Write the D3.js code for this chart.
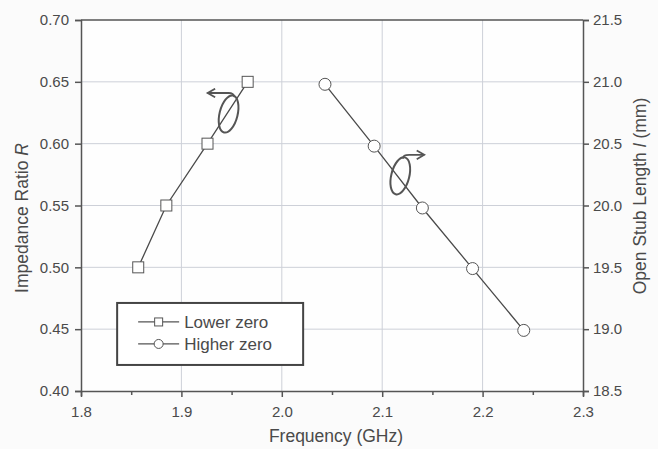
<!DOCTYPE html>
<html>
<head>
<meta charset="utf-8">
<script src="https://d3js.org/d3.v7.min.js"></script>
<style>
    body { margin: 0; background: #fbfbfb; }
    svg { display: block; font-family: "Liberation Sans", Arial, sans-serif; }
    .grid line { stroke: #cdd0d8; stroke-width: 1; }
    .axis path, .axis line { stroke: #555; stroke-width: 1.5; }
    .axis text { fill: #4a4a4a; font-size: 15px; }
    .label { fill: #4a4a4a; font-size: 17px; }
    .title { fill: #4a4a4a; font-size: 17.5px; }
</style>
</head>
<body>
<svg class="target" width="658" height="449"></svg>
<script>

    // data
    let lowerFreq = [1.857, 1.885, 1.926, 1.966];
    let lowerR = [0.50, 0.55, 0.60, 0.65];
    let higherFreq = [2.043, 2.092, 2.140, 2.190, 2.241];
    let higherL = [20.98, 20.48, 19.98, 19.49, 18.99];
    let xTicks = [1.8, 1.9, 2.0, 2.1, 2.2, 2.3];
    let yTicks = [0.40, 0.45, 0.50, 0.55, 0.60, 0.65, 0.70];
    let y2Ticks = [18.5, 19.0, 19.5, 20.0, 20.5, 21.0, 21.5];

    let svg = d3.select(".target"),
        margin = {left: 81, right: 75, top: 20, bottom: 58},
        width = +svg.attr("width") - margin.left - margin.right,
        height = +svg.attr("height") - margin.top - margin.bottom;

    let x = d3.scaleLinear().domain([1.8, 2.3]).range([0, width]);
    let y = d3.scaleLinear().domain([0.40, 0.70]).range([height, 0]);
    let y2 = d3.scaleLinear().domain([18.5, 21.5]).range([height, 0]);

    let g = svg.append("g").attr("transform", "translate(" + margin.left + "," + margin.top + ")");

    g.append("rect").attr("width", width).attr("height", height).attr("fill", "#fefefe");

    // grid
    let grid = g.append("g").attr("class", "grid");
    grid.selectAll(".v").data(xTicks.slice(1, -1)).enter().append("line")
        .attr("x1", d => x(d)).attr("x2", d => x(d)).attr("y1", 0).attr("y2", height);
    grid.selectAll(".h").data(yTicks.slice(1, -1)).enter().append("line")
        .attr("y1", d => y(d)).attr("y2", d => y(d)).attr("x1", 0).attr("x2", width);

    // axes
    g.append("g").attr("class", "axis")
        .attr("transform", "translate(0," + height + ")")
        .call(d3.axisBottom(x).tickValues(d3.range(1.8, 2.3001, 0.05)).tickSize(5)
            .tickFormat(d => xTicks.some(t => Math.abs(t - d) < 1e-6) ? d3.format(".1f")(d) : ""))
        .call(a => a.selectAll(".tick text").attr("y", 9).attr("dy", "1.15em"))
        .call(a => a.selectAll(".tick line").attr("y2", (d, i) => i % 2 ? 4 : 6));

    g.append("g").attr("class", "axis")
        .call(d3.axisLeft(y).tickValues(yTicks).tickSize(6).tickFormat(d3.format(".2f")))
        .call(a => a.selectAll(".tick text").attr("x", -12));

    g.append("g").attr("class", "axis")
        .attr("transform", "translate(" + width + ",0)")
        .call(d3.axisRight(y2).tickValues(y2Ticks).tickSize(6).tickFormat(d3.format(".1f")))
        .call(a => a.selectAll(".tick text").attr("x", 10));

    g.append("line").attr("x1", 0).attr("x2", width).attr("y1", 0).attr("y2", 0)
        .attr("stroke", "#555").attr("stroke-width", 1.5);

    // series
    let lower = lowerFreq.map((f, i) => ({x: f, y: lowerR[i]}));
    let higher = higherFreq.map((f, i) => ({x: f, y: higherL[i]}));

    g.append("path").datum(lower)
        .attr("fill", "none").attr("stroke", "#4a4a4a").attr("stroke-width", 1.3)
        .attr("d", d3.line().x(d => x(d.x)).y(d => y(d.y)));
    g.append("path").datum(higher)
        .attr("fill", "none").attr("stroke", "#4a4a4a").attr("stroke-width", 1.3)
        .attr("d", d3.line().x(d => x(d.x)).y(d => y2(d.y)));

    g.selectAll(".sq").data(lower).enter().append("rect")
        .attr("x", d => x(d.x) - 5.5).attr("y", d => y(d.y) - 5.5)
        .attr("width", 11).attr("height", 11)
        .attr("fill", "#fff").attr("stroke", "#555").attr("stroke-width", 1);
    g.selectAll(".ci").data(higher).enter().append("circle")
        .attr("cx", d => x(d.x)).attr("cy", d => y2(d.y)).attr("r", 6)
        .attr("fill", "#fff").attr("stroke", "#555").attr("stroke-width", 1);

    // axis-pointer annotations
    svg.append("defs").append("marker").attr("id", "head")
        .attr("viewBox", "0 0 10 10").attr("refX", 8).attr("refY", 5)
        .attr("markerWidth", 6).attr("markerHeight", 6).attr("orient", "auto")
        .append("path").attr("d", "M1,1 L8,5 L1,9").attr("fill", "none")
        .attr("stroke", "#555").attr("stroke-width", 1.6);

    function pointer(cx, cy, dir) {
        let px = x(cx), py = y(cy);
        g.append("ellipse").attr("cx", px).attr("cy", py).attr("rx", 9).attr("ry", 19)
            .attr("transform", "rotate(14," + px + "," + py + ")")
            .attr("fill", "none").attr("stroke", "#555").attr("stroke-width", 2);
        let sx = dir < 0 ? px + 6 : px + 3;
        g.append("path")
            .attr("d", "M" + sx + "," + (py - 17) + " Q" + (sx - 1) + "," + (py - 21) + " " + (sx - 6 * -dir) + "," + (py - 21)
                + " L" + (px + (dir < 0 ? -21 : 24)) + "," + (py - 21))
            .attr("fill", "none").attr("stroke", "#555").attr("stroke-width", 1.8)
            .attr("marker-end", "url(#head)");
    }
    pointer(1.947, 0.624, -1);
    pointer(2.118, 0.574, 1);

    // legend
    let leg = g.append("g").attr("transform", "translate(" + x(1.836) + "," + y(0.4712) + ")");
    leg.append("rect").attr("width", 186).attr("height", 62)
        .attr("fill", "#fff").attr("stroke", "#444").attr("stroke-width", 2);
    let items = [{name: "Lower zero", shape: "sq"}, {name: "Higher zero", shape: "ci"}];
    items.forEach((it, i) => {
        let row = leg.append("g").attr("transform", "translate(0," + (19 + i * 22) + ")");
        row.append("line").attr("x1", 21).attr("x2", 62).attr("stroke", "#555").attr("stroke-width", 1.3);
        if (it.shape === "sq") {
            row.append("rect").attr("x", 37.5).attr("y", -4).attr("width", 8).attr("height", 8)
                .attr("fill", "#fff").attr("stroke", "#555");
        } else {
            row.append("circle").attr("cx", 41.5).attr("r", 4.5).attr("fill", "#fff").attr("stroke", "#555");
        }
        row.append("text").attr("class", "label").attr("x", 67).attr("dy", "0.35em").text(it.name);
    });

    // axis titles
    svg.append("text").attr("class", "title").attr("text-anchor", "middle")
        .attr("x", 336).attr("y", 442).text("Frequency (GHz)");

    let yl = svg.append("text").attr("class", "title").attr("text-anchor", "middle")
        .attr("transform", "translate(28,218) rotate(-90)");
    yl.append("tspan").text("Impedance Ratio ");
    yl.append("tspan").attr("font-style", "italic").text("R");

    let yr = svg.append("text").attr("class", "title").attr("text-anchor", "middle")
        .attr("transform", "translate(646,196) rotate(-90)");
    yr.append("tspan").text("Open Stub Length ");
    yr.append("tspan").attr("font-style", "italic").text("l");
    yr.append("tspan").text(" (mm)");
</script>
</body>
</html>
